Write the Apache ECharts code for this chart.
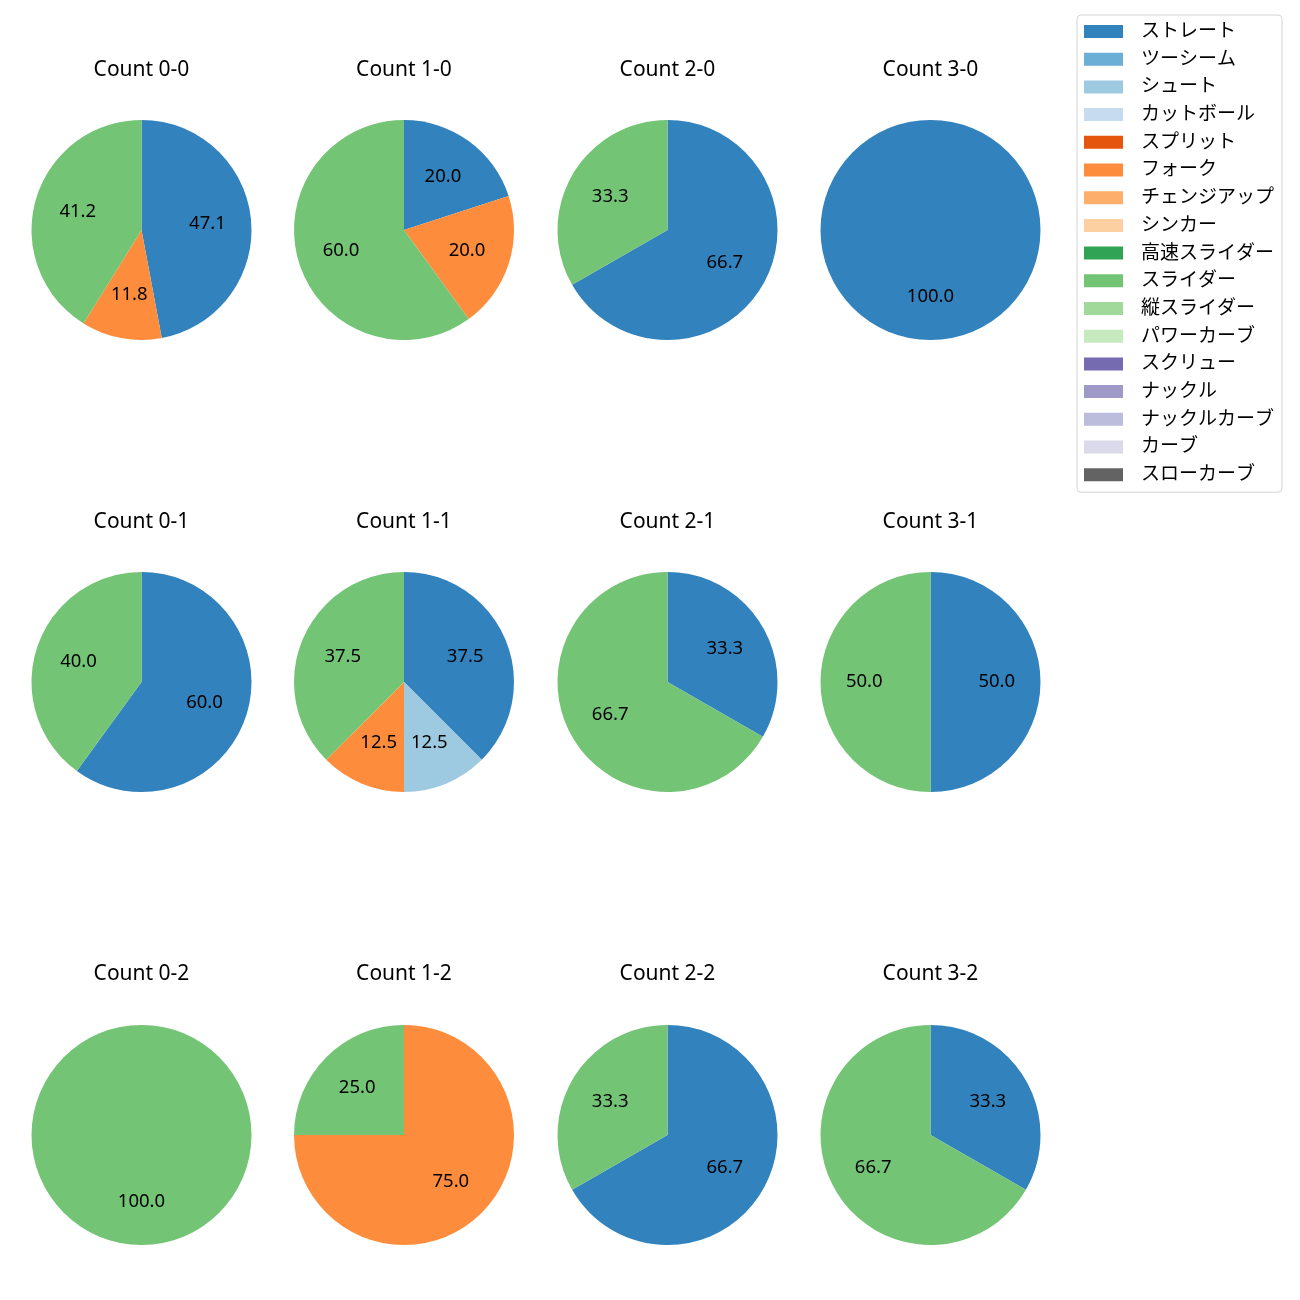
<!DOCTYPE html>
<html>
<head>
<meta charset="utf-8">
<script src="https://cdn.jsdelivr.net/npm/echarts@6/dist/echarts.min.js"></script>
<style>html,body{margin:0;padding:0;background:#fff}#c{width:1300px;height:1300px}</style>
</head>
<body>
<div id="c"></div>
<script>
const pitchTypes = ['ストレート','ツーシーム','シュート','カットボール','スプリット','フォーク','チェンジアップ','シンカー','高速スライダー','スライダー','縦スライダー','パワーカーブ','スクリュー','ナックル','ナックルカーブ','カーブ','スローカーブ'];
const typeColors = ['#3182bd','#6baed6','#9ecae1','#c6dbef','#e6550d','#fd8d3c','#fdae6b','#fdd0a2','#31a354','#74c476','#a1d99b','#c7e9c0','#756bb1','#9e9ac8','#bcbddc','#dadaeb','#636363'];
const countTitles = ['Count 0-0','Count 1-0','Count 2-0','Count 3-0','Count 0-1','Count 1-1','Count 2-1','Count 3-1','Count 0-2','Count 1-2','Count 2-2','Count 3-2'];
// percentage shares per count, keyed by pitch type
const shares = [
  {'ストレート':47.1,'フォーク':11.8,'スライダー':41.2},
  {'ストレート':20.0,'フォーク':20.0,'スライダー':60.0},
  {'ストレート':66.7,'スライダー':33.3},
  {'ストレート':100.0},
  {'ストレート':60.0,'スライダー':40.0},
  {'ストレート':37.5,'シュート':12.5,'フォーク':12.5,'スライダー':37.5},
  {'ストレート':33.3,'スライダー':66.7},
  {'ストレート':50.0,'スライダー':50.0},
  {'スライダー':100.0},
  {'フォーク':75.0,'スライダー':25.0},
  {'ストレート':66.7,'スライダー':33.3},
  {'ストレート':33.3,'スライダー':66.7}
];

const colX = [141.5, 404, 667.5, 930.5];
const rowY = [230, 682, 1135];
const titleY = [69, 521, 973];
const R = 110;
const FONT = '"Noto Sans", "Noto Sans CJK JP", sans-serif';

const series = [];
const titles = [];
shares.forEach((s, i) => {
  const cx = colX[i % 4], cy = rowY[Math.floor(i / 4)];
  const full = pitchTypes.map((n, k) => ({name: n, value: s[n] || 0, itemStyle: {color: typeColors[k]}}));
  const nz = pitchTypes.filter(n => s[n]).map(n => ({name: n, value: s[n]}));
  series.push({
    type: 'pie', center: [cx, cy], radius: R, startAngle: 90, clockwise: true,
    data: full, label: {show: false}, labelLine: {show: false}, silent: true,
    itemStyle: {borderWidth: 0}, emphasis: {disabled: true}, animation: false
  });
  series.push({
    type: 'pie', center: [cx, cy], radius: [R * 0.15, R], startAngle: 90, clockwise: true,
    data: nz, silent: true, animation: false, emphasis: {disabled: true},
    itemStyle: {color: 'rgba(0,0,0,0)', borderWidth: 0},
    label: {show: true, position: 'inside', color: '#000', fontSize: 18.5, fontFamily: FONT,
      formatter: p => p.value.toFixed(1)},
    labelLine: {show: false}
  });
  titles.push({
    text: countTitles[i], left: cx, top: titleY[Math.floor(i / 4)] - 9, textAlign: 'center', padding: 0,
    textStyle: {fontSize: 21, fontWeight: 'normal', color: '#000', fontFamily: FONT}
  });
});

const chart = echarts.init(document.getElementById('c'), null, {renderer: 'canvas'});
chart.setOption({
  animation: false,
  title: titles,
  legend: {
    data: pitchTypes, orient: 'vertical', left: 1077, top: 15,
    padding: [7, 8, 8, 7], itemWidth: 39, itemHeight: 13, itemGap: 8.7,
    icon: 'rect', borderColor: '#d4d4d4', borderWidth: 1, borderRadius: 4,
    selectedMode: false,
    textStyle: {fontSize: 19, lineHeight: 19, color: '#000', fontFamily: FONT, padding: [0, 0, 0, 13]}
  },
  series: series
});
</script>
</body>
</html>
